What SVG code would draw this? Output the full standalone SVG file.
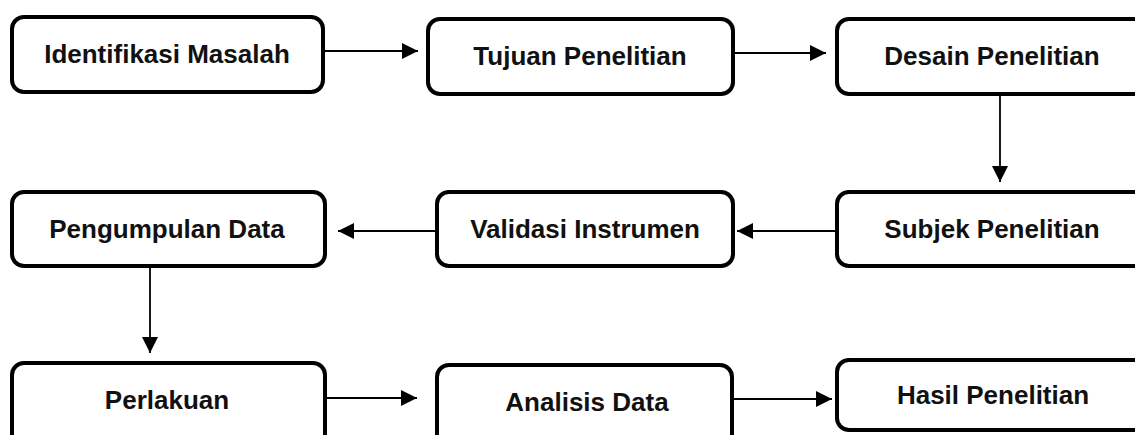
<svg xmlns="http://www.w3.org/2000/svg" width="1135" height="435" viewBox="0 0 1135 435">
<style>
.box{fill:#fff;stroke:#000;stroke-width:4}
.lbl{font-family:"Liberation Sans",Arial,sans-serif;font-weight:bold;font-size:26px;fill:#111;text-anchor:middle}
.con{stroke:#000;stroke-width:1.8;fill:none;marker-end:url(#ah)}
</style>
<defs>
<marker id="ah" markerUnits="userSpaceOnUse" markerWidth="16" markerHeight="16" refX="16" refY="8" orient="auto">
<path d="M0,0 L16,8 L0,16 Z" fill="#000"/>
</marker>
</defs>
<rect width="1135" height="435" fill="#fff"/>
<g id="connectors">
<line class="con" x1="323" y1="51" x2="418" y2="51"/>
<line class="con" x1="733" y1="53" x2="826" y2="53"/>
<line class="con" x1="1000" y1="94" x2="1000" y2="182"/>
<line class="con" x1="837" y1="231" x2="737" y2="231"/>
<line class="con" x1="437" y1="231" x2="338" y2="231"/>
<line class="con" x1="150" y1="266" x2="150" y2="353"/>
<line class="con" x1="325" y1="398" x2="417" y2="398"/>
<line class="con" x1="733" y1="399" x2="832" y2="399"/>
</g>
<g id="n1"><rect class="box" x="12" y="17" width="311" height="75" rx="12"/><text class="lbl" x="167" y="63">Identifikasi Masalah</text></g>
<g id="n2"><rect class="box" x="428" y="19" width="305" height="75" rx="12"/><text class="lbl" x="580" y="65">Tujuan Penelitian</text></g>
<g id="n3"><rect class="box" x="837" y="19" width="320" height="75" rx="12"/><text class="lbl" x="992" y="65">Desain Penelitian</text></g>
<g id="n4"><rect class="box" x="837" y="192" width="320" height="74" rx="12"/><text class="lbl" x="992" y="238">Subjek Penelitian</text></g>
<g id="n5"><rect class="box" x="437" y="192" width="296" height="74" rx="12"/><text class="lbl" x="585" y="238">Validasi Instrumen</text></g>
<g id="n6"><rect class="box" x="12" y="192" width="313" height="74" rx="12"/><text class="lbl" x="167" y="238">Pengumpulan Data</text></g>
<g id="n7"><rect class="box" x="12" y="363" width="313" height="85" rx="12"/><text class="lbl" x="167" y="409">Perlakuan</text></g>
<g id="n8"><rect class="box" x="437" y="365" width="295" height="85" rx="12"/><text class="lbl" x="587" y="411">Analisis Data</text></g>
<g id="n9"><rect class="box" x="837" y="360" width="320" height="70" rx="12"/><text class="lbl" x="993" y="404">Hasil Penelitian</text></g>
</svg>
